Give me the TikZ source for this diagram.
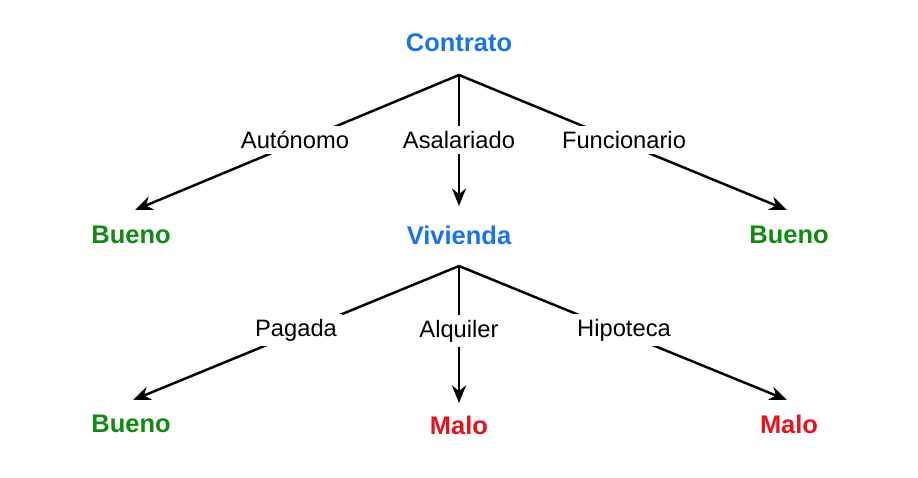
\documentclass[tikz,border=0pt]{standalone}
\usepackage{fontspec}
\setmainfont{Liberation Sans}
\usetikzlibrary{arrows.meta,positioning}
\definecolor{azul}{HTML}{1A73E8}
\definecolor{verde}{HTML}{128A12}
\definecolor{rojo}{HTML}{E3141E}
\tikzset{attr/.style={font=\fontsize{14.5}{17}\selectfont\bfseries,text=azul},
    bueno/.style={font=\fontsize{14.5}{17}\selectfont\bfseries,text=verde},
    malo/.style={font=\fontsize{14.5}{17}\selectfont\bfseries,text=rojo},
    valor/.style={font=\fontsize{13.5}{16}\selectfont,fill=white,inner sep=3pt},
    rama/.style={line width=1.4pt,-{Stealth[length=10pt,width=8pt]}}
}

\begin{document}
\begin{tikzpicture}[x=0.02cm,y=-0.02cm]
\useasboundingbox (0,0) rectangle (918,477);

\node [attr] (contrato) at (459,43) {Contrato};
\node [attr] (vivienda) at (459,235) {Vivienda};
\node [bueno] (buenoA) at (131,235) {Bueno};
\node [bueno] (buenoB) at (789,235) {Bueno};
\node [bueno] (buenoC) at (131,424) {Bueno};
\node [malo] (maloA) at (459,425) {Malo};
\node [malo] (maloB) at (789,424) {Malo};

\coordinate (c0) at (459,75);
\coordinate (v0) at (459,266);
\coordinate (tA) at (135,210);
\coordinate (tB) at (787,210);
\coordinate (tV) at (459,206);
\coordinate (tC) at (133,400);
\coordinate (tM) at (459,403);
\coordinate (tD) at (787,400);

\draw [rama] (c0) -- (tA);
\draw [rama] (c0) -- (tV);
\draw [rama] (c0) -- (tB);
\draw [rama] (v0) -- (tC);
\draw [rama] (v0) -- (tM);
\draw [rama] (v0) -- (tD);

\node [valor] (autonomo) at (295,140) {Autónomo};
\node [valor] (asalariado) at (459,140) {Asalariado};
\node [valor] (funcionario) at (624,140) {Funcionario};
\node [valor] (pagada) at (296,330) {Pagada};
\node [valor] (alquiler) at (459,331) {Alquiler};
\node [valor] (hipoteca) at (624,330) {Hipoteca};

\end{tikzpicture}
\end{document}
